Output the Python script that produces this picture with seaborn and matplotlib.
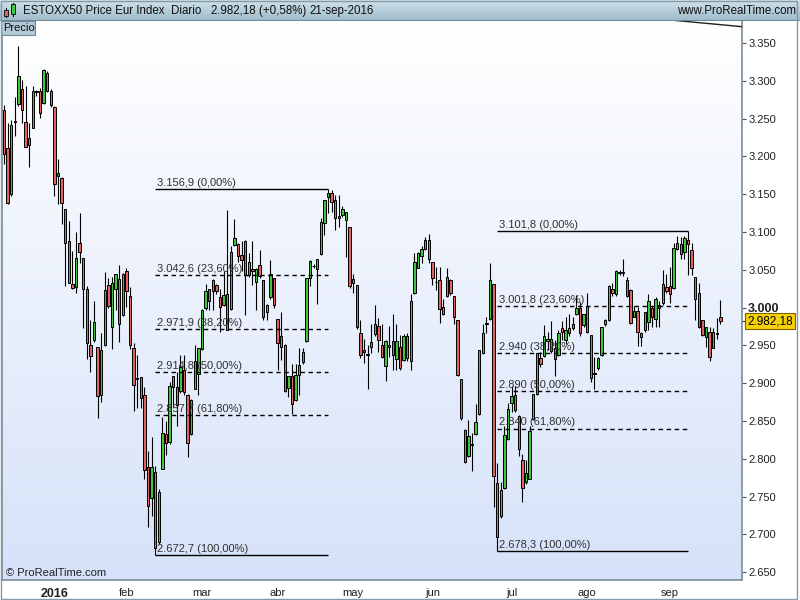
import numpy as np
import matplotlib
matplotlib.use("Agg")
import matplotlib.pyplot as plt
import seaborn as sns
from matplotlib.colors import LinearSegmentedColormap
from matplotlib.patches import Rectangle
from matplotlib import transforms

# ---------------- data ----------------
opens = [3262, 3211, 3150, 3247, 3269, 3289, 3245, 3224, 3238, 3285,
         3287, 3270, 3310, 3287, 3266, 3174, 3171, 3130, 3088, 3031,
         3027, 3085, 3065, 3025, 2951, 2957, 2948, 2884, 2950, 3030,
         2975, 3024, 3038, 2990, 3049, 3015, 2946, 2907, 2908, 2885,
         2789, 2748, 2783, 2690, 2787, 2833, 2822, 2909, 2895, 2890,
         2917, 2885, 2833, 2893, 2912, 2945, 2999, 3024, 3022, 3030,
         3014, 3004, 3018, 2998, 3083, 3084, 3070, 3088, 3043, 3051,
         3034, 3056, 3037, 2994, 3014, 3039, 2985, 2948, 2951, 2894,
         2910, 2878, 2911, 2928, 2956, 3039, 3055, 3051, 3071, 3112,
         3146, 3151, 3142, 3121, 3122, 3116, 3106, 3038, 3030, 2967,
         2944, 2939, 2948, 2965, 2976, 2951, 2923, 2948, 2956, 2932,
         2948, 2931, 2962, 2929, 3019, 3053, 3068, 3077, 3090, 3061,
         3034, 3036, 2991, 3016, 3037, 3015, 2984, 2905, 2838, 2804,
         2820, 2833, 2859, 2940, 2980, 2985, 3031, 2768, 2724, 2761,
         2826, 2874, 2885, 2857, 2799, 2769, 2774, 2853, 2886, 2934,
         2936, 2956, 2959, 2947, 2937, 2973, 2957, 2966, 2973, 2992,
         2999, 2977, 3002, 2964, 2914, 2920, 2937, 2978, 2984, 3024,
         3018, 3046, 3046, 3037, 3023, 2988, 2996, 2967, 2970, 2981,
         2999, 2985, 3004, 3006, 3027, 3028, 3026, 3085, 3084, 3074,
         3089, 3076, 3041, 3019, 2984, 2961, 2968, 2947, 2967, 2987]
highs = [3268, 3244, 3248, 3278, 3346, 3301, 3293, 3244, 3293, 3288,
         3291, 3315, 3313, 3289, 3267, 3196, 3173, 3131, 3115, 3075,
         3100, 3125, 3066, 3028, 2984, 3009, 2948, 2967, 3047, 3039,
         3041, 3045, 3056, 3046, 3052, 3027, 2953, 2937, 2908, 2895,
         2811, 2829, 2790, 2760, 2855, 2850, 2902, 2910, 2915, 2937,
         2937, 2886, 2879, 2951, 2947, 2998, 3031, 3025, 3038, 3031,
         3024, 3048, 3129, 3081, 3117, 3085, 3088, 3089, 3072, 3088,
         3053, 3076, 3037, 3005, 3063, 3039, 2985, 2994, 2952, 2910,
         2925, 2925, 2946, 2946, 3039, 3063, 3058, 3064, 3118, 3142,
         3156.9, 3156, 3149, 3149, 3134, 3127, 3107, 3045, 3030, 2984,
         2959, 2951, 2979, 3004, 2986, 2979, 2957, 2976, 2991, 2979,
         2964, 2965, 2966, 3018, 3072, 3074, 3081, 3094, 3098, 3061,
         3054, 3054, 3012, 3052, 3038, 3016, 2984, 2906, 2839, 2851,
         2834, 2872, 2944, 2978, 2988, 3059, 3031, 2794, 2770, 2843,
         2874, 2896, 2896, 2858, 2807, 2799, 2843, 2886, 2940, 2941,
         2977, 2968, 2982, 2957, 2970, 2982, 2987, 2992, 2987, 3017,
         3008, 2992, 3020, 2964, 2935, 2935, 2975, 2985, 3030, 3032,
         3050, 3050, 3064, 3040, 3024, 3002, 3001, 2968, 2994, 3018,
         3002, 3014, 3009, 3050, 3045, 3054, 3085, 3095, 3094, 3095,
         3101.8, 3086, 3041, 3032, 2984, 2975, 2975, 2973, 2986, 3010]
lows = [3190, 3137, 3147, 3227, 3267, 3244, 3212, 3186, 3237, 3280,
        3251, 3269, 3285, 3266, 3147, 3137, 3110, 3028, 3032, 3025,
        3020, 3059, 2973, 2932, 2915, 2955, 2854, 2875, 2949, 3000,
        2945, 2997, 2955, 2989, 3001, 2945, 2863, 2867, 2867, 2773,
        2710, 2724, 2672.7, 2688, 2786, 2805, 2820, 2869, 2843, 2887,
        2884, 2802, 2832, 2892, 2884, 2944, 2997, 2997, 2997, 3018,
        2968, 3002, 2970, 2997, 3081, 3061, 3048, 2990, 3040, 3030,
        2997, 3039, 2984, 2984, 3012, 2999, 2917, 2931, 2888, 2882,
        2860, 2877, 2884, 2926, 2955, 3029, 3052, 3005, 3069, 3096,
        3125, 3127, 3103, 3107, 3120, 3067, 3026, 3019, 2972, 2933,
        2927, 2893, 2940, 2963, 2942, 2933, 2903, 2935, 2918, 2918,
        2917, 2930, 2930, 2918, 3018, 3052, 3059, 3076, 3059, 3030,
        3023, 2980, 2990, 3014, 3017, 2979, 2909, 2852, 2795, 2802,
        2784, 2832, 2858, 2939, 2967, 2983, 2737, 2678.3, 2722, 2760,
        2825, 2862, 2862, 2804, 2743, 2767, 2773, 2851, 2884, 2922,
        2935, 2944, 2940, 2910, 2936, 2957, 2952, 2963, 2970, 2990,
        2962, 2975, 2966, 2902, 2893, 2918, 2936, 2976, 2982, 3016,
        3016, 3043, 3042, 3014, 2978, 2987, 2949, 2949, 2968, 2970,
        2974, 2974, 2975, 3004, 3020, 3006, 3024, 3076, 3064, 3064,
        3043, 3043, 2983, 2973, 2962, 2948, 2929, 2946, 2959, 2979]
closes = [3203, 3139, 3241, 3245, 3306, 3261, 3213, 3215, 3286, 3287,
          3257, 3314, 3286, 3268, 3164, 3178, 3139, 3085, 3033, 3026,
          3065, 3073, 3024, 2953, 2936, 2981, 2883, 2944, 3023, 3002,
          3033, 3044, 2979, 3045, 3022, 2951, 2898, 2906, 2880, 2785,
          2738, 2789, 2682, 2756, 2834, 2821, 2897, 2895, 2871, 2922,
          2888, 2821, 2878, 2929, 2946, 2997, 3022, 3009, 3037, 3022,
          3001, 3017, 2971, 3074, 3092, 3068, 3063, 3043, 3061, 3048,
          3051, 3042, 2987, 3004, 3044, 3004, 2953, 2962, 2890, 2910,
          2872, 2911, 2924, 2942, 3039, 3062, 3055, 3064, 3113, 3142,
          3151, 3140, 3118, 3119, 3130, 3126, 3028, 3032, 2974, 2938,
          2941, 2937, 2955, 2979, 2957, 2935, 2956, 2951, 2938, 2956,
          2920, 2963, 2933, 3009, 3061, 3072, 3078, 3090, 3064, 3039,
          3034, 2998, 3001, 3040, 3020, 2988, 2911, 2854, 2796, 2830,
          2819, 2849, 2944, 2967, 2978, 3037, 2777, 2697, 2759, 2832,
          2866, 2883, 2864, 2813, 2761, 2781, 2837, 2886, 2940, 2926,
          2963, 2959, 2943, 2932, 2967, 2968, 2971, 2973, 2979, 2999,
          2966, 2992, 2968, 2907, 2912, 2933, 2974, 2984, 3029, 3019,
          3049, 3047, 3047, 3015, 2980, 2995, 2968, 2961, 2994, 3009,
          2987, 3011, 2999, 3031, 3022, 3018, 3079, 3077, 3071, 3092,
          3084, 3053, 3012, 2975, 2964, 2974, 2935, 2968, 2965, 2982.18]

month_pos = [14, 34, 55, 76, 97, 119, 141, 162, 185]
month_labels = ["2016", "feb", "mar", "abr", "may", "jun", "jul", "ago", "sep"]

ytick_vals = [2650, 2700, 2750, 2800, 2850, 2900, 2950, 3000,
              3050, 3100, 3150, 3200, 3250, 3300, 3350]
ytick_labels = ["2.650", "2.700", "2.750", "2.800", "2.850", "2.900", "2.950", "3.000",
                "3.050", "3.100", "3.150", "3.200", "3.250", "3.300", "3.350"]

fib_left_levels = [3156.9, 3042.6, 2971.9, 2914.8, 2857.7, 2672.7]
fib_left_labels = ["3.156,9 (0,00%)", "3.042,6 (23,60%)", "2.971,9 (38,20%)",
                   "2.914,8 (50,00%)", "2.857,7 (61,80%)", "2.672,7 (100,00%)"]
fib_left_span = [42, 90]
fib_right_levels = [3101.8, 3001.8, 2940.0, 2890.0, 2840.0, 2678.3]
fib_right_labels = ["3.101,8 (0,00%)", "3.001,8 (23,60%)", "2.940 (38,20%)",
                    "2.890 (50,00%)", "2.840 (61,80%)", "2.678,3 (100,00%)"]
fib_right_span = [137, 190]

trend_x = [150, 205]
trend_y = [3396.0, 3371.6]

last_price = 2982.18
last_label = "2.982,18"

# ---------------- style ----------------
sns.set_style("white")
plt.rcParams['font.family'] = ['Liberation Sans', 'DejaVu Sans']

W, H = 800, 600
fig = plt.figure(figsize=(8, 6), dpi=100)
fig.patch.set_facecolor("white")

XL = (-0.56, 205.0)
YL = (2639.8, 3379.1)

ax = fig.add_axes([2 / W, 20 / H, 740 / W, 559 / H])
# background gradient
grad = np.linspace(0, 1, 256).reshape(-1, 1)
bg_cmap = LinearSegmentedColormap.from_list("bg", ["#d6e2f9", "#ffffff"])
ax.imshow(grad, extent=[XL[0], XL[1], YL[0], YL[1]], origin="lower",
          aspect="auto", cmap=bg_cmap, zorder=0)

idx = np.arange(len(opens))
o = np.array(opens, float)
c = np.array(closes, float)
hi = np.array(highs, float)
lo = np.array(lows, float)
up = c >= o
cols = np.where(up, "#3fc63f", "#e06464")
body_bot = np.minimum(o, c)
body_h = np.maximum(np.abs(c - o), 0.4)

ax.vlines(idx, lo, hi, color="black", lw=0.8, zorder=2)
ax.bar(idx, body_h, bottom=body_bot, width=0.62, color=cols,
       edgecolor="black", linewidth=0.7, zorder=3)

# fibonacci retracements
for levels, labels, span in [(fib_left_levels, fib_left_labels, fib_left_span),
                             (fib_right_levels, fib_right_labels, fib_right_span)]:
    for k, (lv, lb) in enumerate(zip(levels, labels)):
        solid = k == 0 or k == len(levels) - 1
        ax.hlines(lv, span[0], span[1], colors="black", lw=1.0,
                  linestyles="-" if solid else (0, (3.2, 2.6)), zorder=4)
        ax.text(span[0] + 0.5, lv + 1.5, lb, fontsize=8, color="#303030",
                va="bottom", ha="left", zorder=5)

# trend line at top right
sns.lineplot(x=trend_x, y=trend_y, ax=ax, color="#202020", lw=1.0, zorder=4)

ax.set_xlim(*XL)
ax.set_ylim(*YL)

# axes
ax.spines["top"].set_visible(False)
for s in ["left", "right", "bottom"]:
    ax.spines[s].set_color("#7a8c9c")
    ax.spines[s].set_linewidth(1.2)

ax.yaxis.tick_right()
ax.set_yticks(ytick_vals)
ax.set_yticklabels(ytick_labels)
ax.tick_params(axis="y", which="both", direction="out", length=3, width=0.8,
               color="#505050", labelsize=8, pad=1.5, labelcolor="#202020",
               left=False, right=True)
for t in ax.get_yticklabels():
    if t.get_text() == "3.000":
        t.set_fontweight("bold")
        t.set_fontsize(9)

ax.set_xticks(month_pos)
ax.set_xticklabels(month_labels)
ax.tick_params(axis="x", direction="out", length=3, width=0.8, color="#505050",
               labelsize=8, pad=2.5, labelcolor="#202020")
for t in ax.get_xticklabels():
    if t.get_text() == "2016":
        t.set_fontweight("bold")
        t.set_fontsize(9)
ax.set_xlabel("")
ax.set_ylabel("")

# last price marker
tr = transforms.blended_transform_factory(ax.transAxes, ax.transData)
ax.plot([1.0, 1.0 + 4 / 740], [last_price, last_price], transform=tr,
        color="#303030", lw=0.8, clip_on=False)
ax.text(1.0 + 5 / 740, last_price, last_label, transform=tr, fontsize=8.5,
        va="center", ha="left", color="black", clip_on=False,
        bbox=dict(boxstyle="square,pad=0.2", fc="#f5d10a", ec="#806000", lw=0.8))

ax.text(4 / 740, 6.5 / 559, "\u00a9 ProRealTime.com", transform=ax.transAxes,
        fontsize=8, color="#202020", va="center", ha="left")

# header bar
hax = fig.add_axes([0, 579 / H, 1, 21 / H])
hcmap = LinearSegmentedColormap.from_list("hd", ["#9dbac9", "#cfe3ec"])
hax.imshow(grad, extent=[0, 1, 0, 1], origin="lower", aspect="auto", cmap=hcmap)
hax.set_xlim(0, 1)
hax.set_ylim(0, 1)
hax.axis("off")
hax.axhline(0.02, color="#6a7f8e", lw=1.2)

def ftext(px, py, s, **kw):
    fig.text(px / W, 1 - py / H, s, **kw)

HFS = 8.3
ftext(23, 11, "ESTOXX50 Price Eur Index", fontsize=HFS, va="center", color="#101010")
ftext(171, 11, "Diario", fontsize=HFS, va="center", color="#101010")
ftext(211, 11, "2.982,18 (+0,58%)", fontsize=HFS, va="center", color="#101010")
ftext(309, 11, "21-sep-2016", fontsize=HFS, va="center", color="#101010")
ftext(796, 11, "www.ProRealTime.com", fontsize=HFS, va="center", ha="right",
      color="#101010")

# header icon
def frect(x0, y0, x1, y1, **kw):
    fig.patches.append(Rectangle((x0 / W, 1 - y1 / H), (x1 - x0) / W, (y1 - y0) / H,
                                 transform=fig.transFigure, figure=fig, **kw))

frect(5.5, 8, 6.5, 18, fc="black", ec="none")
frect(4, 10, 8, 16, fc="#e06464", ec="black", lw=0.6)
frect(12.5, 3, 13.5, 17, fc="black", ec="none")
frect(11, 4, 15, 14, fc="#3fc63f", ec="black", lw=0.6)

# "Precio" tab
frect(1, 21, 35, 35, fc="#b3c9d7", ec="#6f8797", lw=0.8)
ftext(3.5, 28, "Precio", fontsize=8, va="center", color="#101010")

# outer frame
frect(0.5, 0.5, 797, 598.5, fc="none", ec="#8798a6", lw=1.0)

fig.savefig("out.png", dpi=100)
